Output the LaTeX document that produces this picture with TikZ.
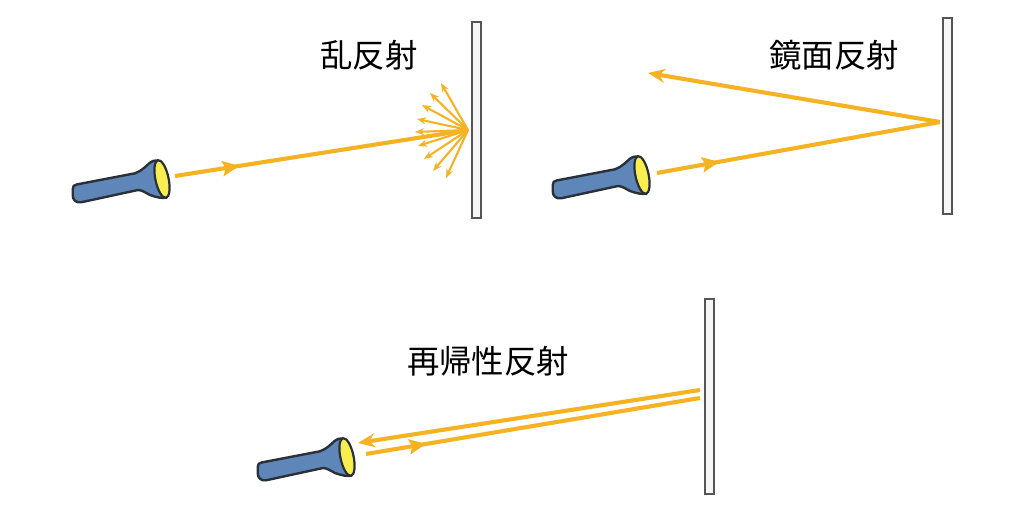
\documentclass[tikz,border=0pt]{standalone}
\usepackage{fontspec}
\newfontfamily\cjk{Noto Sans CJK JP}
\usetikzlibrary{arrows.meta,decorations.markings}
\definecolor{ray}{HTML}{F5B324}
\definecolor{bodyblue}{HTML}{5F86B8}
\definecolor{lens}{HTML}{F8EE50}
\definecolor{wallc}{HTML}{F6F6F6}
\definecolor{edge}{HTML}{2A3038}
\definecolor{walledge}{HTML}{555558}
\tikzset{
  wallbox/.style={draw=walledge,fill=wallc,line width=2pt,minimum width=9pt,minimum height=195pt,inner sep=0pt,outer sep=0pt},
  caption/.style={font=\cjk\fontsize{32.4}{32.4}\selectfont,text=black,inner sep=0pt},
  rayline/.style={draw=ray,line width=4.1pt},
  thin ray/.style={draw=ray,line width=2.1pt,-{Stealth[length=9pt,width=7pt]}},
  tip ray/.style={draw=ray,line width=4.1pt,-{Stealth[length=17pt,width=14pt]}},
  mid ray/.style={rayline,postaction={decorate},decoration={markings,mark=at position #1 with {\arrow[ray]{Stealth[length=17pt,width=15pt,inset=3pt]}}}},
  flashlight/.pic={
    \draw[edge,line width=2.4pt,fill=bodyblue,line join=round]
      (-89.3,10) .. controls (-89.3,7) and (-88,6) .. (-85,5.4)
      -- (-27,-5.7) .. controls (-20,-8) and (-15,-14) .. (-12,-16.3)
      .. controls (-10,-18) and (-8,-18.6) .. (-4.5,-18.6)
      -- (4.5,18.6) .. controls (0,19.5) and (-5,18.5) .. (-12,16)
      .. controls (-16,14) and (-20,11) .. (-24,11)
      -- (-81,23.3) .. controls (-86,24) and (-89.3,21) .. (-89.3,16) -- cycle;
    \draw[edge,line width=2.2pt,fill=lens,rotate=12] (0,0) ellipse [x radius=6.6,y radius=19.2];
  }
}
\begin{document}
\begin{tikzpicture}[x=1pt,y=-1pt]
\useasboundingbox (0,0) rectangle (1024,513);
% walls
\node[wallbox] (w1) at (476,120) {};
\node[wallbox] (w2) at (947,116) {};
\node[wallbox] (w3) at (709,396) {};
% flashlights
\pic at (162,179) {flashlight};
\pic at (642,175) {flashlight};
\pic at (347,457) {flashlight};
% captions
\node[caption] (c1) at (369,55) {乱反射};
\node[caption] (c2) at (834,55) {鏡面反射};
\node[caption] (c3) at (488,361) {再帰性反射};
% end points
\coordinate (a0) at (175,176);
\coordinate (a1) at (468,130);
\coordinate (b0) at (657,173);
\coordinate (b1) at (940,122);
\coordinate (b2) at (648,73);
\coordinate (d1) at (700,390);
\coordinate (d0) at (358,443);
\coordinate (e1) at (700,398);
\coordinate (e0) at (366,454);
\foreach \n/\x/\y in {s1/441/83,s2/430/93,s3/422/105,s4/417/119,s5/415/132,s6/418/146,s7/424/159,s8/433/171,s9/446/178}
  \coordinate (\n) at (\x,\y);
% rays
\path[mid ray=0.22] (a0) -- (a1);
\foreach \n in {s1,s2,s3,s4,s5,s6,s7,s8,s9} \draw[thin ray] (a1) -- (\n);
\path[mid ray=0.22] (b0) -- (b1);
\draw[tip ray] (b1) -- (b2);
\draw[tip ray] (d1) -- (d0);
\path[mid ray=0.18] (e0) -- (e1);
\end{tikzpicture}
\end{document}
